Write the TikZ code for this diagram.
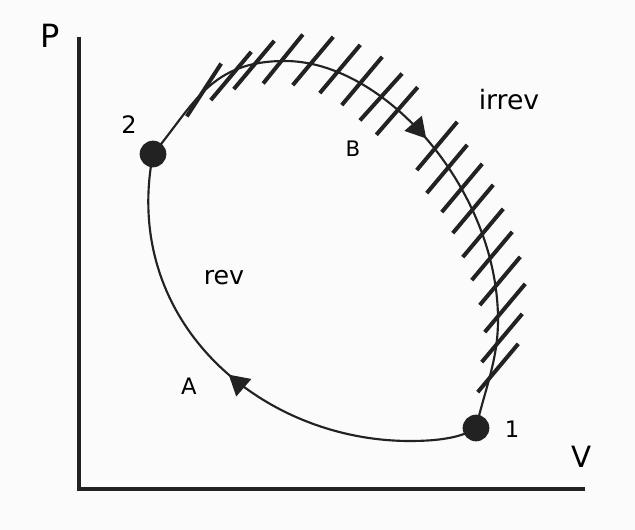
\documentclass[tikz,border=0pt]{standalone}
\usepackage{fontspec}
\setmainfont{DejaVu Sans}
\usetikzlibrary{arrows.meta,decorations.markings}
\definecolor{inkline}{RGB}{34,34,34}
\definecolor{paper}{RGB}{251,251,251}
\tikzset{
  axis/.style={draw=inkline,line width=3pt,line join=miter},
  curve/.style={draw=inkline,line width=1.6pt},
  hatch/.style={draw=inkline,line width=3pt},
  statept/.style={circle,fill=inkline,minimum size=20pt,inner sep=0pt},
  lbl/.style={anchor=base,inner sep=0pt,text=black,font=\fontsize{#1}{#1}\selectfont},
  fwd/.style={postaction={decorate},decoration={markings,
    mark=at position #1 with {\arrow[inkline]{Triangle[length=15pt,width=17pt]}}}}
}
\begin{document}
\begin{tikzpicture}[x=0.75pt,y=-0.75pt]
  \fill[paper] (0,0) rectangle (635,530);
  \useasboundingbox (0,0) rectangle (635,530);

  \coordinate (ytop) at (79,37);
  \coordinate (org) at (79,489);
  \coordinate (xend) at (585,489);
  \draw[axis] (ytop) -- (org) -- (xend);
  \node[lbl=24] (plbl) at (50,48) {P};
  \node[lbl=22] (vlbl) at (582,467) {V};

  \node[statept] (p2) at (153,154) {};
  \node[statept] (p1) at (476,428) {};
  \node[lbl=18] (l2) at (129,134) {2};
  \node[lbl=17] (l1) at (512,438) {1};

  \coordinate (ptop) at (285,61);
  \coordinate (pright) at (498,320);
  \coordinate (pbot) at (410,441);
  \draw[curve,fwd=0.52] (p2.center) .. controls (194.6,104) and (210,61) .. (ptop)
    .. controls (385,61) and (498,190) .. (pright)
    .. controls (498,360) and (485,389) .. (p1.center);
  \draw[curve,fwd=0.52] (p1.center) .. controls (459.6,439.4) and (430,441) .. (pbot)
    .. controls (260,441) and (120.7,320.6) .. (p2.center);

  \foreach \hx/\hy/\ha in {204/90/57,231/76/50,254/65/50,283/59/51,313/61/50,340/69/50,
      362/81/50,381/97/48,397/111/49,437/146/50,447/169/50,462/188/50,473/209/50,
      483/233/50,492/256/50,500/281/50,505/308/50,502/338/50,498/368/50}
    \draw[hatch] (\hx,\hy) ++(-\ha:31.5) -- ++(180-\ha:63);

  \node[lbl=20] (irr) at (509,110) {irrev};
  \node[lbl=19] (rv) at (224,285) {rev};
  \node[lbl=17] (la) at (189,395) {A};
  \node[lbl=16] (lb) at (353,157) {B};
\end{tikzpicture}
\end{document}
